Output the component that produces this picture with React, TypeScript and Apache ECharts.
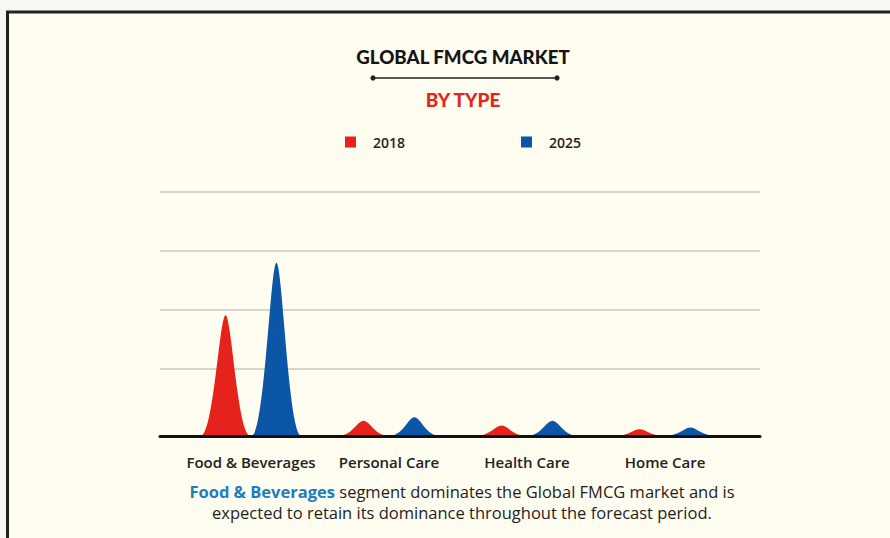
import React, { useEffect, useRef } from "react";
import * as echarts from "echarts";

const categories = ["Food & Beverages", "Personal Care", "Health Care", "Home Care"];
const years = ["2018", "2025"];
const values2018 = [1.98, 0.25, 0.17, 0.11];
const values2025 = [2.84, 0.31, 0.25, 0.14];
const yTicks = [0, 1, 2, 3, 4];

const RED = "#E5221C";
const BLUE = "#0B56A6";
const PEAK = "path://M0,100 C26,100 38,0 50,0 C62,0 74,100 100,100 Z";

export default function App() {
  const ref = useRef<HTMLDivElement>(null);
  useEffect(() => {
    if (!ref.current) return;
    const chart = echarts.init(ref.current, undefined, { renderer: "svg" });
    const yMin = yTicks[0];
    const yMax = yTicks[yTicks.length - 1];
    const yInterval = yTicks[1] - yTicks[0];
    chart.setOption({
      animation: false,
      backgroundColor: "#F7F7F4",
      grid: [
        { left: 160, right: 130, top: 192, bottom: 110 },
        { left: 182, right: 156, top: 192, bottom: 102 },
      ],
      legend: {
        data: years,
        left: 340,
        top: 130,
        icon: "rect",
        itemWidth: 11,
        itemHeight: 11,
        itemGap: 116,
        textStyle: {
          fontSize: 14,
          fontFamily: "Open Sans",
          fontWeight: 600,
          color: "#222",
          padding: [0, 0, 0, 12],
        },
      },
      xAxis: [
        {
          gridIndex: 0,
          type: "category",
          data: [""],
          z: 5,
          offset: 8,
          axisLine: { show: true, onZero: false, lineStyle: { color: "#111", width: 3 } },
          axisTick: { show: false },
          axisLabel: { show: false },
        },
        {
          gridIndex: 1,
          type: "category",
          data: categories,
          axisLine: { show: false },
          axisTick: { show: false },
          axisLabel: {
            interval: 0,
            fontSize: 15,
            fontFamily: "Open Sans",
            fontWeight: 600,
            color: "#222",
            margin: 18,
          },
        },
      ],
      yAxis: [
        {
          gridIndex: 0,
          type: "value",
          min: yMin,
          max: yMax,
          interval: yInterval,
          axisLine: { show: false },
          axisTick: { show: false },
          axisLabel: { show: false },
          splitLine: {
            show: true,
            showMinLine: false,
            lineStyle: { color: "#C9C9C6", width: 1.5 },
          },
        },
        {
          gridIndex: 1,
          type: "value",
          min: yMin,
          max: yMax,
          interval: yInterval,
          show: false,
          splitLine: { show: false },
        },
      ],
      series: [
        {
          name: years[0],
          type: "pictorialBar",
          xAxisIndex: 1,
          yAxisIndex: 1,
          symbol: PEAK,
          symbolSize: [50, "100%"],
          barWidth: 48,
          barGap: "6%",
          itemStyle: { color: RED },
          data: values2018,
          z: 3,
        },
        {
          name: years[1],
          type: "pictorialBar",
          xAxisIndex: 1,
          yAxisIndex: 1,
          symbol: PEAK,
          symbolSize: [50, "100%"],
          barWidth: 48,
          barGap: "6%",
          itemStyle: { color: BLUE },
          data: values2025,
          z: 3,
        },
      ],
      graphic: [
        {
          type: "rect",
          z: -10,
          silent: true,
          shape: { x: 7.5, y: 12, width: 1000, height: 600 },
          style: { fill: "#FFFCF0", stroke: "#222", lineWidth: 3 },
        },
        {
          type: "text",
          x: 463,
          y: 57,
          style: {
            text: "GLOBAL FMCG MARKET",
            fontFamily: "Lato",
            fontWeight: 900,
            fontSize: 18.7,
            fill: "#151515",
            textAlign: "center",
            textVerticalAlign: "middle",
          },
        },
        {
          type: "line",
          shape: { x1: 373, y1: 78, x2: 557, y2: 78 },
          style: { stroke: "#222", lineWidth: 1.5 },
        },
        { type: "circle", shape: { cx: 373, cy: 78, r: 2.6 }, style: { fill: "#222" } },
        { type: "circle", shape: { cx: 557, cy: 78, r: 2.6 }, style: { fill: "#222" } },
        {
          type: "text",
          x: 463,
          y: 99,
          style: {
            text: "BY TYPE",
            fontFamily: "Lato",
            fontWeight: 900,
            fontSize: 19,
            fill: "#E3261B",
            textAlign: "center",
            textVerticalAlign: "middle",
          },
        },
        {
          type: "text",
          x: 462,
          y: 481,
          style: {
            text:
              "{b|Food & Beverages} segment dominates the Global FMCG market and is\nexpected to retain its dominance throughout the forecast period.",
            fontFamily: "Open Sans",
            fontSize: 16.5,
            lineHeight: 21,
            fill: "#1E1E1E",
            textAlign: "center",
            rich: {
              b: {
                fontFamily: "Open Sans",
                fontSize: 16.5,
                lineHeight: 21,
                fontWeight: 700,
                fill: "#1C7DC2",
              },
            },
          },
        },
      ],
    });
    return () => chart.dispose();
  }, []);
  return (
    <div
      ref={ref}
      style={{ position: "absolute", left: 0, top: 0, width: 890, height: 538 }}
    />
  );
}
